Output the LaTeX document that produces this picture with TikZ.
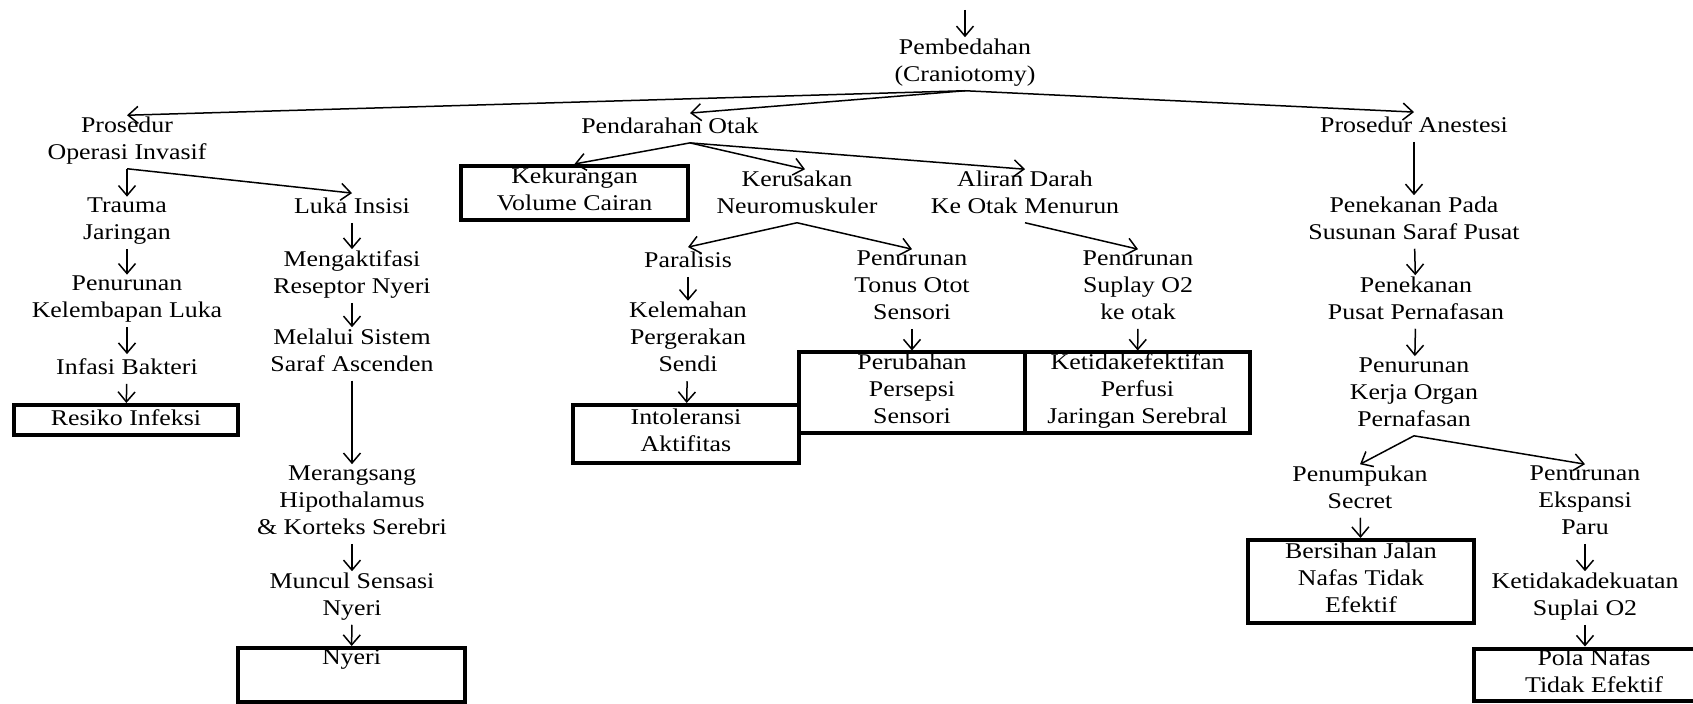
\documentclass[tikz,border=0pt]{standalone}
\usepackage{fontspec}
\setmainfont[FakeStretch=1.15]{Liberation Serif}
\usetikzlibrary{arrows.meta}
\tikzset{
	% plain text of one step
	txt/.style={align=center,inner sep=0.5pt,
		font=\fontsize{11.25}{13.5}\selectfont,
		execute at begin node=\strut,execute at end node=\strut},
	% nursing diagnosis in a thick frame
	diag/.style={txt,draw,line width=2pt},
	% thin open arrow
	arr/.style={-{Straight Barb[length=5pt,width=8.5pt]},line width=0.75pt},
}
\begin{document}
\begin{tikzpicture}[x=0.5pt,y=-0.5pt]
		\useasboundingbox (0,0) rectangle (1693,704);
		\coordinate (start) at (965,10);
		\node[txt] (pemb) at (965,64) {Pembedahan\\(Craniotomy)};
		\node[txt] (pros) at (127,142) {Prosedur\\Operasi Invasif};
		\node[txt] (pend) at (670,128) {Pendarahan Otak};
		\node[txt] (anes) at (1414,127) {Prosedur Anestesi};
		% left branch
		\node[txt] (trauma) at (127,223) {Trauma\\Jaringan};
		\node[txt] (lembap) at (127,301) {Penurunan\\Kelembapan Luka};
		\node[txt] (infasi) at (127,369) {Infasi Bakteri};
		\node[diag,minimum width=112pt,minimum height=15pt] (resiko) at (126,420) {Resiko Infeksi};
		\node[txt] (luka) at (352,208) {Luka Insisi};
		\node[txt] (aktif) at (352,276) {Mengaktifasi\\Reseptor Nyeri};
		\node[txt] (melalui) at (352,354) {Melalui Sistem\\Saraf Ascenden};
		\node[txt] (rangsang) at (352,504) {Merangsang\\Hipothalamus\\\& Korteks Serebri};
		\node[txt] (muncul) at (352,598) {Muncul Sensasi\\Nyeri};
		\node[diag,minimum width=113.5pt,minimum height=27pt] (nyeri) at (351.5,675) {Nyeri\\\mbox{}};
		% middle branch
		\node[diag,minimum width=113.5pt,minimum height=27pt] (kek) at (574.5,193) {Kekurangan\\Volume Cairan};
		\node[txt] (ker) at (797,196) {Kerusakan\\Neuromuskuler};
		\node[txt] (alir) at (1025,196) {Aliran Darah\\Ke Otak Menurun};
		\node[txt] (para) at (688,262) {Paralisis};
		\node[txt] (lemah) at (688,341) {Kelemahan\\Pergerakan\\Sendi};
		\node[txt] (tonus) at (912,289) {Penurunan\\Tonus Otot\\Sensori};
		\node[txt] (suplay) at (1138,289) {Penurunan\\Suplay O2\\ke otak};
		\node[diag,minimum width=113pt,minimum height=29pt] (intol) at (686,434) {Intoleransi\\Aktifitas};
		\node[diag,minimum width=113pt,minimum height=40.5pt] (ubah) at (912,393) {Perubahan\\Persepsi\\Sensori};
		\node[diag,minimum width=112.5pt,minimum height=40.5pt] (perfusi) at (1137.5,393) {Ketidakefektifan\\Perfusi\\Jaringan Serebral};
		% right branch
		\node[txt] (tekan1) at (1414,222) {Penekanan Pada\\Susunan Saraf Pusat};
		\node[txt] (tekan2) at (1416,302) {Penekanan\\Pusat Pernafasan};
		\node[txt] (kerja) at (1414,396) {Penurunan\\Kerja Organ\\Pernafasan};
		\node[txt] (numpuk) at (1360,491) {Penumpukan\\Secret};
		\node[txt] (ekspansi) at (1585,504) {Penurunan\\Ekspansi\\Paru};
		\node[txt] (adekuat) at (1585,598) {Ketidakadekuatan\\Suplai O2};
		\node[diag,minimum width=113pt,minimum height=41.5pt] (bersih) at (1361,581.5) {Bersihan Jalan\\Nafas Tidak\\Efektif};
		\node[diag,minimum width=120pt,minimum height=26pt] (pola) at (1594,675) {Pola Nafas\\Tidak Efektif};
		% arrows
		\draw[arr] (start) -- (pemb.north);
		\draw[arr] (pemb.south) -- (pros.north);
		\draw[arr] (pemb.south) -- ([xshift=10pt]pend.north);
		\draw[arr] (pemb.south) -- (anes.north);
		\draw[arr] (pros.south) -- (trauma.north);
		\draw[arr] (pros.south) -- (luka.north);
		\draw[arr] (trauma) -- (lembap);
		\draw[arr] (lembap) -- (infasi);
		\draw[arr] (infasi) -- (resiko);
		\draw[arr] (luka) -- (aktif);
		\draw[arr] (aktif) -- (melalui);
		\draw[arr] (melalui) -- (rangsang);
		\draw[arr] (rangsang) -- (muncul);
		\draw[arr] (muncul) -- (nyeri);
		\draw[arr] ([xshift=10pt]pend.south) -- (kek.north);
		\draw[arr] ([xshift=10pt]pend.south) -- ([xshift=4pt]ker.north);
		\draw[arr] ([xshift=10pt]pend.south) -- (alir.north);
		\draw[arr] (ker.south) -- (para.north);
		\draw[arr] (ker.south) -- (tonus.north);
		\draw[arr] (alir.south) -- (suplay.north);
		\draw[arr] (para) -- (lemah);
		\draw[arr] (lemah) -- (intol);
		\draw[arr] (tonus) -- (ubah);
		\draw[arr] (suplay) -- (perfusi);
		\draw[arr] (anes) -- (tekan1);
		\draw[arr] (tekan1) -- (tekan2);
		\draw[arr] (tekan2) -- (kerja);
		\draw[arr] (kerja.south) -- (numpuk.north);
		\draw[arr] (kerja.south) -- (ekspansi.north);
		\draw[arr] (numpuk) -- (bersih);
		\draw[arr] (ekspansi) -- (adekuat);
		\draw[arr] (adekuat.south) -- (adekuat.south |- pola.north);
\end{tikzpicture}
\end{document}
